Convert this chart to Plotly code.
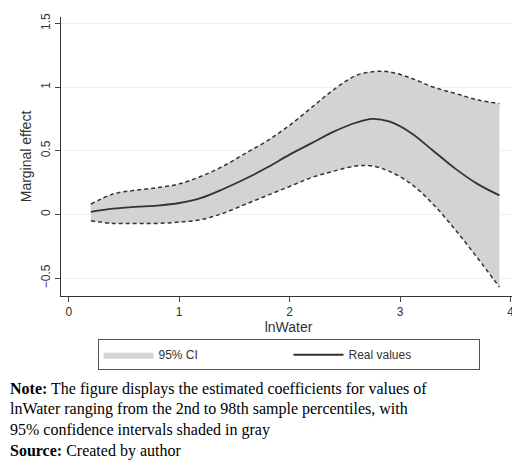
import plotly.graph_objs as go

x = [0.2, 0.4, 0.6, 0.8, 1.0, 1.2, 1.4, 1.6, 1.8, 2.0, 2.2, 2.4, 2.6, 2.75, 2.9, 3.1, 3.3, 3.5, 3.7, 3.9]
real_values = [0.02, 0.045, 0.06, 0.07, 0.09, 0.13, 0.2, 0.28, 0.37, 0.47, 0.56, 0.65, 0.72, 0.75, 0.73, 0.64, 0.5, 0.36, 0.24, 0.15]
ci_upper = [0.08, 0.16, 0.19, 0.21, 0.24, 0.3, 0.38, 0.48, 0.58, 0.7, 0.84, 0.98, 1.09, 1.12, 1.12, 1.07, 1.0, 0.95, 0.9, 0.87]
ci_lower = [-0.05, -0.07, -0.07, -0.07, -0.06, -0.04, 0.01, 0.08, 0.15, 0.22, 0.29, 0.34, 0.38, 0.38, 0.34, 0.24, 0.08, -0.12, -0.34, -0.57]

note_lines = [
    "<b>Note:</b> The figure displays the estimated coefficients for values of",
    "lnWater ranging from the 2nd to 98th sample percentiles, with",
    "95% confidence intervals shaded in gray",
    "<b>Source:</b> Created by author",
]

fig = go.Figure()
fig.add_trace(go.Scatter(
    x=x, y=ci_lower, mode="lines", line=dict(color="#333", dash="4px,3px", width=1.5, shape="spline"),
    showlegend=False, hoverinfo="skip"
))
fig.add_trace(go.Scatter(
    x=x, y=ci_upper, mode="lines", line=dict(color="#333", dash="4px,3px", width=1.5, shape="spline"),
    fill="tonexty", fillcolor="#d3d3d3", showlegend=False, hoverinfo="skip"
))
# legend-only entry for the shaded band
fig.add_trace(go.Scatter(
    x=[None], y=[None], mode="lines", fill="toself", fillcolor="#d3d3d3",
    line=dict(color="#d3d3d3", width=0), name="95% CI", legendrank=1
))
fig.add_trace(go.Scatter(
    x=x, y=real_values, mode="lines", line=dict(color="#333", width=1.8, shape="spline"),
    name="Real values", legendrank=2
))

for i, line in enumerate(note_lines):
    fig.add_annotation(
        text=line, xref="paper", yref="paper", x=-53 / 455, y=(288 - 382 - i * 21) / 283,
        xanchor="left", yanchor="middle", showarrow=False, align="left",
        font=dict(family="Liberation Serif", size=16, color="black")
    )

fig.update_layout(
    width=520, height=466,
    margin=dict(l=53, r=12, t=5, b=178),
    plot_bgcolor="white", paper_bgcolor="white",
    font=dict(family="Liberation Sans", size=12, color="#333"),
    legend=dict(
        orientation="h", x=0.5, xanchor="center", y=-0.155, yanchor="top",
        bordercolor="#555", borderwidth=1, font=dict(size=12),
        itemwidth=50, entrywidth=125, traceorder="normal"
    ),
    xaxis=dict(
        range=[-0.07, 4.05], tickvals=[0, 1, 2, 3, 4], showgrid=False, zeroline=False,
        showline=True, linecolor="#333", ticks="outside", ticklen=5,
        title=dict(text="lnWater", standoff=2)
    ),
    yaxis=dict(
        range=[-0.64, 1.55], tickvals=[-0.5, 0, 0.5, 1, 1.5], ticktext=["\u22120.5", "0", "0.5", "1", "1.5"],
        tickangle=-90, showgrid=True, gridcolor="#eeeeee", zeroline=False,
        showline=True, linecolor="#333", ticks="outside", ticklen=5,
        title=dict(text="Marginal effect", standoff=4)
    ),
)

fig.write_html("out.html")
